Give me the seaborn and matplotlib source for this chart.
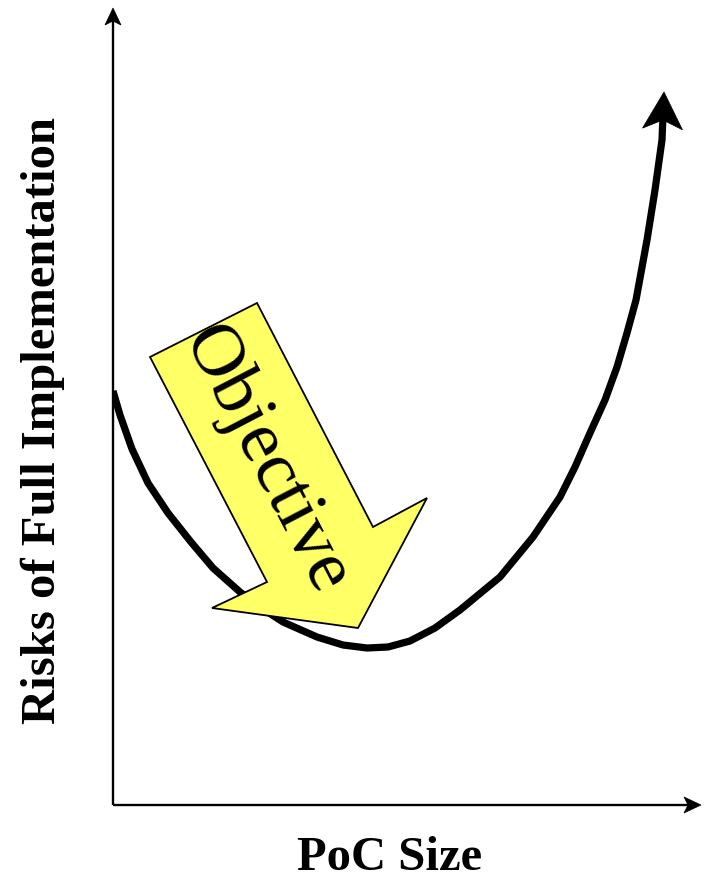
import numpy as np
import matplotlib
matplotlib.use("Agg")
import matplotlib.pyplot as plt
from matplotlib.patches import Polygon
import seaborn as sns
import pandas as pd

# PoC size vs. risk of full implementation (schematic units)
poc_size = [0, 7, 19, 35, 55, 78, 100, 127, 150, 170, 204, 230, 254, 275, 297, 322,
            347, 387, 420, 447, 462, 477, 492, 504, 514, 523, 534, 542, 549, 551]
risk = [414, 390, 356, 322, 292, 263, 237, 213, 196, 183, 168, 160, 157, 158, 164, 177,
        195, 228, 268, 308, 338, 372, 405, 438, 472, 505, 565, 615, 665, 713]

# "Objective" block arrow outline (same units)
obj_x = [37, 144, 260, 314, 245, 99, 154]
obj_y = [448, 502, 278, 307, 177, 197, 223]
obj_label = "Objective"
obj_label_pos = (152, 344)

x_label = "PoC Size"
y_label = "Risks of Full Implementation"

sns.set_theme(style="white")
plt.rcParams["font.family"] = ["Liberation Serif", "DejaVu Serif"]

fig = plt.figure(figsize=(7.04, 8.81), dpi=100)
fig.patch.set_facecolor("white")
ax = fig.add_axes([113 / 704, 76 / 881, 590 / 704, 797 / 881])
ax.set_xlim(0, 590)
ax.set_ylim(0, 797)
ax.set_facecolor("white")
for s in ax.spines.values():
    s.set_visible(False)
ax.set_xticks([])
ax.set_yticks([])


def head(tip, direction, length, width, notch):
    d = np.asarray(direction, float)
    d /= np.hypot(*d)
    n = np.array([-d[1], d[0]])
    tip = np.asarray(tip, float)
    base = tip - length * d
    pts = [tip, base + n * width / 2, tip - (length - notch) * d, base - n * width / 2]
    return np.array(pts), tip - (length - notch) * d


# axis arrows
yh, yend = head((0, 797), (0, 1), 17, 16, 4)
ax.plot([0, 0], [0, yend[1]], color="black", lw=1.7, solid_capstyle="butt", clip_on=False)
ax.add_patch(Polygon(yh, closed=True, facecolor="black", edgecolor="black", lw=0.5, clip_on=False))
xh, xend = head((588, 0), (1, 0), 17, 16, 4)
ax.plot([0, xend[0]], [0, 0], color="black", lw=1.7, solid_capstyle="butt", clip_on=False)
ax.add_patch(Polygon(xh, closed=True, facecolor="black", edgecolor="black", lw=0.5, clip_on=False))

# yellow "Objective" arrow
ax.add_patch(Polygon(np.column_stack([obj_x, obj_y]), closed=True,
                     facecolor="#FFFF66", edgecolor="black", lw=1.3, zorder=2))
ax.text(obj_label_pos[0], obj_label_pos[1], obj_label, fontsize=54,
        rotation=-62.5, rotation_mode="anchor", ha="center", va="center",
        color="black", zorder=3)

# risk curve with arrowhead at its end
tip = (poc_size[-1], risk[-1])
dirv = (poc_size[-1] - poc_size[-2], risk[-1] - risk[-2])
ch, cend = head(tip, dirv, 37, 40, 9)
df = pd.DataFrame({"poc": poc_size[:-1] + [cend[0]], "risk": risk[:-1] + [cend[1]]})
sns.lineplot(data=df, x="poc", y="risk", ax=ax, sort=False, color="black",
             lw=5.2, solid_capstyle="butt", solid_joinstyle="round", zorder=1)
ax.add_patch(Polygon(ch, closed=True, facecolor="black", edgecolor="black", lw=0.5, zorder=1))
ax.set_xlabel("")
ax.set_ylabel("")

# axis titles
fig.text(390 / 704, 1 - 858 / 881, x_label, fontsize=35, fontweight="bold",
         ha="center", va="center", color="black")
fig.text(43 / 704, 1 - 420 / 881, y_label, fontsize=35, fontweight="bold",
         rotation=90, ha="center", va="center", color="black")

fig.savefig("out.png", dpi=100, facecolor="white")
